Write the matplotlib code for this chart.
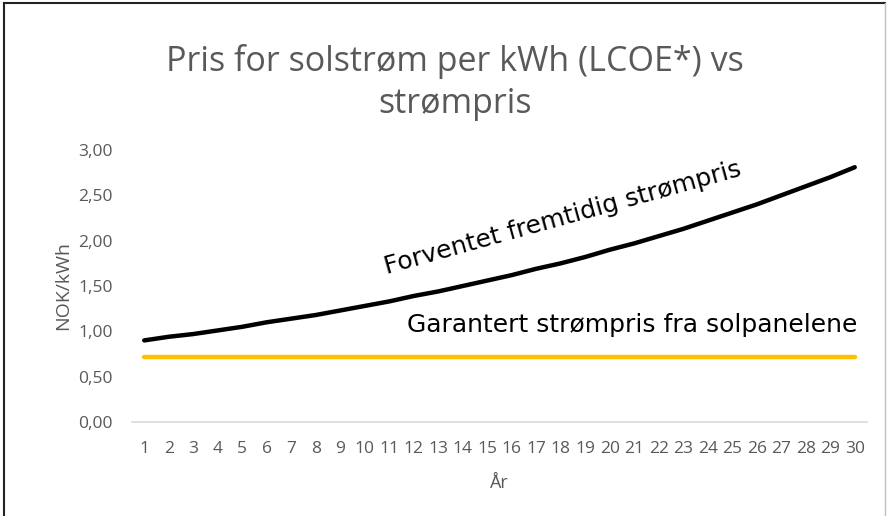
import matplotlib.pyplot as plt
from matplotlib.lines import Line2D

# Years and prices (NOK/kWh)
years = list(range(1, 31))
forventet = [0.90, 0.94, 0.97, 1.01, 1.05, 1.10, 1.14, 1.18, 1.23, 1.28,
             1.33, 1.39, 1.44, 1.50, 1.56, 1.62, 1.69, 1.75, 1.82, 1.90,
             1.97, 2.05, 2.13, 2.22, 2.31, 2.40, 2.50, 2.60, 2.70, 2.81]
garantert = [0.72] * 30

y_ticks = [0.0, 0.5, 1.0, 1.5, 2.0, 2.5, 3.0]
grey = '#595959'

fig = plt.figure(figsize=(8.88, 5.16), dpi=100)
ax = fig.add_axes([132 / 888, 1 - 422 / 516, 735 / 888, 272 / 516])

ax.plot(years, garantert, color='#ffc000', lw=3.2, solid_capstyle='round')
ax.plot(years, forventet, color='black', lw=3.2, solid_capstyle='round')

ax.set_xlim(0.5, 30.5)
ax.set_ylim(0, 3)
ax.set_xticks(years)
ax.set_xticklabels([str(y) for y in years], family='Open Sans')
ax.set_yticks(y_ticks)
ax.set_yticklabels([f'{v:.2f}'.replace('.', ',') for v in y_ticks], family='Open Sans')
ax.tick_params(length=0, labelsize=12.5, colors=grey)
ax.tick_params(axis='x', pad=14)
ax.tick_params(axis='y', pad=14)
for s in ['top', 'right', 'left']:
    ax.spines[s].set_visible(False)
ax.spines['bottom'].set_color('#d9d9d9')
ax.spines['bottom'].set_linewidth(1.2)

ax.set_xlabel('År', fontsize=13, color=grey, family='Open Sans')
ax.xaxis.set_label_coords(0.5, -0.19)
ax.set_ylabel('NOK/kWh', fontsize=14, color=grey, family='Open Sans')
ax.yaxis.set_label_coords(-0.082, 0.5)

fig.text(0.512, 0.84, 'Pris for solstrøm per kWh (LCOE*) vs\nstrømpris',
         ha='center', va='center', fontsize=24.5, color=grey,
         linespacing=1.3, family='Open Sans')

ax.text(18.1, 2.25, 'Forventet fremtidig strømpris', rotation=15.5,
        ha='center', va='center', fontsize=18, color='black',
        rotation_mode='anchor')
ax.text(20.9, 1.07, 'Garantert strømpris fra solpanelene',
        ha='center', va='center', fontsize=18, color='black')

# frame around the chart area
fig.add_artist(Line2D([4 / 888, 4 / 888], [0, 1 - 3 / 516], color='#222222', lw=1.5))
fig.add_artist(Line2D([4 / 888, 885 / 888], [1 - 3 / 516, 1 - 3 / 516], color='#222222', lw=1.5))
fig.add_artist(Line2D([885 / 888, 885 / 888], [0, 1 - 3 / 516], color='#bfbfbf', lw=1))

fig.savefig('out.png', dpi=100)
